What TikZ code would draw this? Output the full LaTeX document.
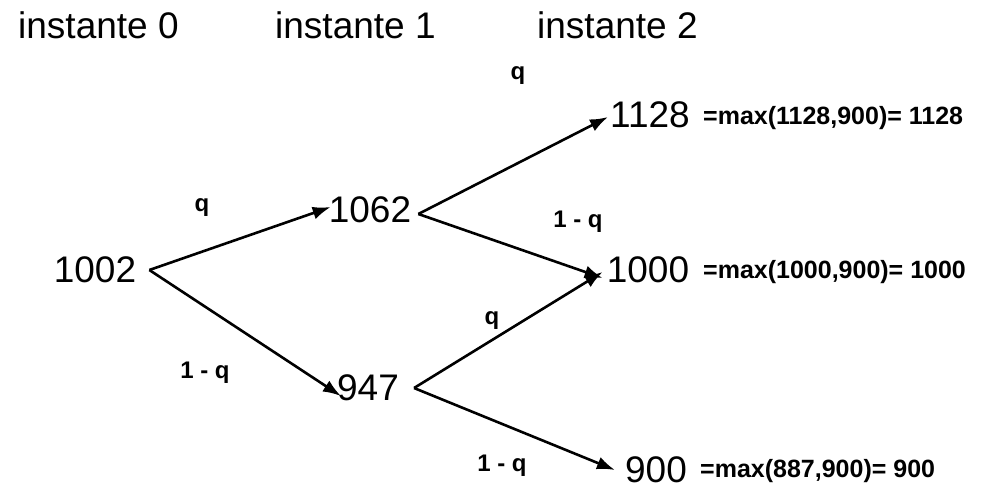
\documentclass[tikz,border=0pt]{standalone}
\usepackage{fontspec}
\setmainfont{Liberation Sans}
\usetikzlibrary{positioning, arrows.meta, calc}

\begin{document}
\begin{tikzpicture}[
x=1pt, y=-1pt,
    heading/.style={anchor=west, inner sep=0pt, font=\fontsize{37}{44}\selectfont},
    price/.style={inner sep=0pt, font=\fontsize{37}{44}\selectfont},
    payoff/.style={anchor=west, inner sep=0pt, font=\fontsize{25}{30}\selectfont\bfseries},
    prob/.style={inner sep=0pt, font=\fontsize{24}{29}\selectfont\bfseries},
    branch/.style={draw, line width=2.6pt, -{Latex[length=18pt,width=13pt]}}
]

    \useasboundingbox (0,0) rectangle (986,491);

    % Headings
    \node[heading] (h0) at (18,25) {instante 0};
    \node[heading] (h1) at (275,25) {instante 1};
    \node[heading] (h2) at (537,25) {instante 2};

    % Prices
    \node[price] (s0) at (95,270) {1002};
    \node[price] (su) at (370,210) {1062};
    \node[price] (sd) at (368,388) {947};
    \node[price] (suu) at (650,115) {1128};
    \node[price] (sud) at (648,270) {1000};
    \node[price] (sdd) at (656,470) {900};

    % Payoffs
    \node[payoff] (puu) at (703,118) {=max(1128,900)= 1128};
    \node[payoff] (pud) at (703,272) {=max(1000,900)= 1000};
    \node[payoff] (pdd) at (700,471) {=max(887,900)= 900};

    % Branches
    \draw[branch] ([xshift=13pt]s0.east) -- ([xshift=2pt,yshift=3pt]su.west);
    \draw[branch] ([xshift=13pt]s0.east) -- ([xshift=4pt,yshift=-8pt]sd.west);
    \draw[branch] ([xshift=7pt,yshift=-4pt]su.east) -- ([xshift=-2pt,yshift=-2pt]suu.west);
    \draw[branch] ([xshift=7pt,yshift=-4pt]su.east) -- ([xshift=-4pt,yshift=-8pt]sud.west);
    \draw[branch] ([xshift=15pt]sd.east) -- ([xshift=-4pt,yshift=-2pt]sud.west);
    \draw[branch] ([xshift=15pt]sd.east) -- ([xshift=-10pt]sdd.west);

    % Probabilities
    \node[prob] (q1) at (202,208) {q};
    \node[prob] (q2) at (205,373) {1 - q};
    \node[prob] (q3) at (518,76) {q};
    \node[prob] (q4) at (578,222) {1 - q};
    \node[prob] (q5) at (492,321) {q};
    \node[prob] (q6) at (502,466) {1 - q};

\end{tikzpicture}
\end{document}
